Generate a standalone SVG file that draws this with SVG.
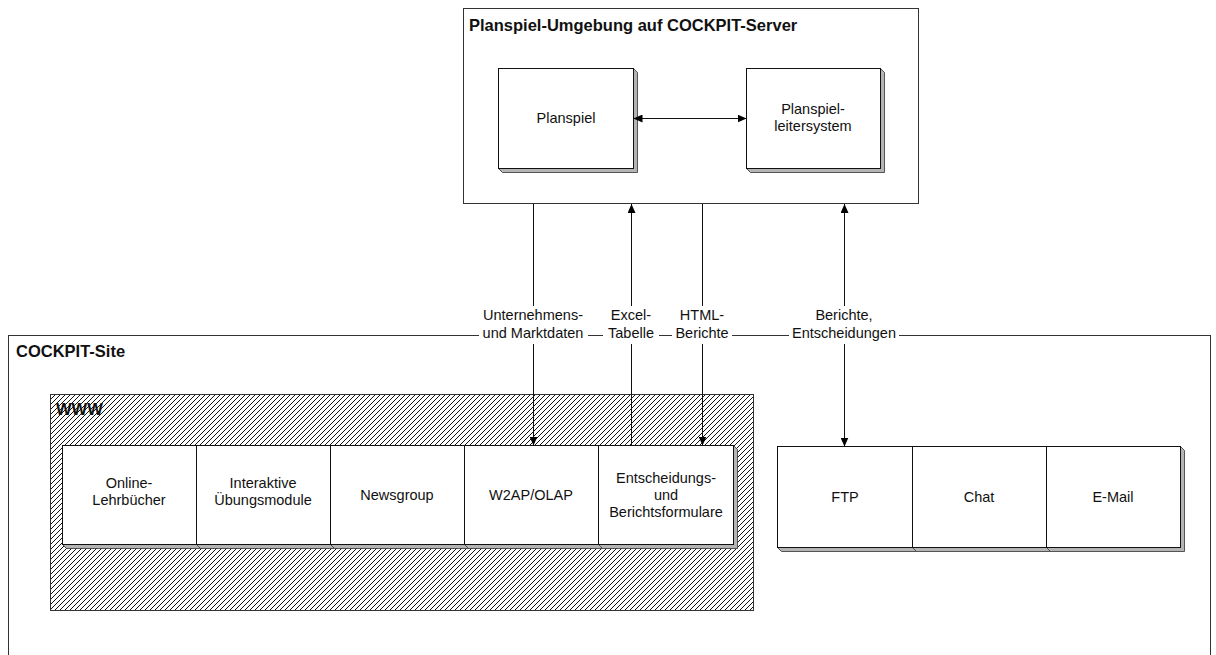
<svg xmlns="http://www.w3.org/2000/svg" width="1216" height="655" viewBox="0 0 1216 655">
<style>
.frame{fill:#fff;stroke:#333;stroke-width:1}
.box{fill:#fff;stroke:#111;stroke-width:1}
.sh{fill:#b4b4b4;stroke:#333;stroke-width:0.8}
.t{font-family:"Liberation Sans",Arial,sans-serif;font-size:14.5px;fill:#111;text-anchor:middle}
.h{font-family:"Liberation Sans",Arial,sans-serif;font-size:16.5px;font-weight:bold;fill:#111}
.c{stroke:#111;stroke-width:1;fill:none}
.lb{fill:#fff;stroke:none}
</style>
<defs>
<pattern id="hatch" x="0" y="0" width="5" height="5" patternUnits="userSpaceOnUse">
<g fill="#111" shape-rendering="crispEdges">
<rect x="4" y="0" width="1" height="1"/>
<rect x="3" y="1" width="1" height="1"/>
<rect x="2" y="2" width="1" height="1"/>
<rect x="1" y="3" width="1" height="1"/>
<rect x="0" y="4" width="1" height="1"/>
</g>
</pattern>
<marker id="arr" viewBox="0 0 10 10" markerWidth="9" markerHeight="8" refX="10" refY="5" orient="auto-start-reverse" markerUnits="userSpaceOnUse" preserveAspectRatio="none">
<path d="M0,0 L10,5 L0,10 z" fill="#000"/>
</marker>
</defs>

<g id="cockpit-site">
<rect class="frame" x="8.5" y="335.5" width="1202" height="330"/>
<text class="h" x="16" y="357">COCKPIT-Site</text>
</g>

<g id="www">
<rect x="50.5" y="394.5" width="703" height="216" fill="url(#hatch)" stroke="#333" stroke-width="1"/>
<text class="h" x="56" y="415">WWW</text>
</g>

<g id="server">
<rect class="frame" x="463.5" y="8.5" width="455" height="195"/>
<text class="h" x="469" y="31">Planspiel-Umgebung auf COCKPIT-Server</text>
</g>

<g id="planspiel">
<polygon class="sh" points="498.5,168.5 502.5,172.5 637.5,172.5 637.5,72.5 633.5,68.5"/>
<rect class="box" x="498.5" y="68.5" width="135" height="100"/>
<text class="t" x="566" y="123">Planspiel</text>
</g>

<g id="leitersystem">
<polygon class="sh" points="746.5,168.5 750.5,172.5 884.5,172.5 884.5,72.5 880.5,68.5"/>
<rect class="box" x="746.5" y="68.5" width="134" height="100"/>
<text class="t" x="813" y="114">Planspiel-</text>
<text class="t" x="813" y="131">leitersystem</text>
</g>

<g id="online-lehrbuecher">
<polygon class="sh" points="62.5,544.5 66.5,548.5 200.5,548.5 200.5,449.5 196.5,445.5"/>
<rect class="box" x="62.5" y="445.5" width="134" height="99"/>
<text class="t" x="129" y="488">Online-</text>
<text class="t" x="129" y="505">Lehrbücher</text>
</g>

<g id="uebungsmodule">
<polygon class="sh" points="196.5,544.5 200.5,548.5 334.5,548.5 334.5,449.5 330.5,445.5"/>
<rect class="box" x="196.5" y="445.5" width="134" height="99"/>
<text class="t" x="263" y="488">Interaktive</text>
<text class="t" x="263" y="505">Übungsmodule</text>
</g>

<g id="newsgroup">
<polygon class="sh" points="330.5,544.5 334.5,548.5 468.5,548.5 468.5,449.5 464.5,445.5"/>
<rect class="box" x="330.5" y="445.5" width="134" height="99"/>
<text class="t" x="397" y="500">Newsgroup</text>
</g>

<g id="w2ap-olap">
<polygon class="sh" points="464.5,544.5 468.5,548.5 602.5,548.5 602.5,449.5 598.5,445.5"/>
<rect class="box" x="464.5" y="445.5" width="134" height="99"/>
<text class="t" x="531" y="500">W2AP/OLAP</text>
</g>

<g id="formulare">
<polygon class="sh" points="598.5,544.5 602.5,548.5 737.5,548.5 737.5,449.5 733.5,445.5"/>
<rect class="box" x="598.5" y="445.5" width="135" height="99"/>
<text class="t" x="666" y="483">Entscheidungs-</text>
<text class="t" x="666" y="500">und</text>
<text class="t" x="666" y="517">Berichtsformulare</text>
</g>

<g id="ftp">
<polygon class="sh" points="777.5,547.5 781.5,551.5 916.5,551.5 916.5,450.5 912.5,446.5"/>
<rect class="box" x="777.5" y="446.5" width="135" height="101"/>
<text class="t" x="845" y="502">FTP</text>
</g>

<g id="chat">
<polygon class="sh" points="912.5,547.5 916.5,551.5 1050.5,551.5 1050.5,450.5 1046.5,446.5"/>
<rect class="box" x="912.5" y="446.5" width="134" height="101"/>
<text class="t" x="979" y="502">Chat</text>
</g>

<g id="email">
<polygon class="sh" points="1046.5,547.5 1050.5,551.5 1184.5,551.5 1184.5,450.5 1180.5,446.5"/>
<rect class="box" x="1046.5" y="446.5" width="134" height="101"/>
<text class="t" x="1113" y="502">E-Mail</text>
</g>

<g id="connectors">
<line class="c" x1="633.5" y1="118.5" x2="746.5" y2="118.5" marker-start="url(#arr)" marker-end="url(#arr)"/>
<line class="c" x1="533.5" y1="204" x2="533.5" y2="445.5" marker-end="url(#arr)"/>
<line class="c" x1="631.5" y1="445.5" x2="631.5" y2="204" marker-end="url(#arr)"/>
<line class="c" x1="702.5" y1="204" x2="702.5" y2="445.5" marker-end="url(#arr)"/>
<line class="c" x1="844.5" y1="204" x2="844.5" y2="446.5" marker-start="url(#arr)" marker-end="url(#arr)"/>

<rect class="lb" x="479" y="306" width="109" height="38"/>
<text class="t" x="533" y="320">Unternehmens-</text>
<text class="t" x="533" y="338">und Marktdaten</text>

<rect class="lb" x="603" y="306" width="56" height="38"/>
<text class="t" x="631" y="320">Excel-</text>
<text class="t" x="631" y="338">Tabelle</text>

<rect class="lb" x="672" y="306" width="60" height="38"/>
<text class="t" x="702" y="320">HTML-</text>
<text class="t" x="702" y="338">Berichte</text>

<rect class="lb" x="789" y="306" width="110" height="38"/>
<text class="t" x="844" y="320">Berichte,</text>
<text class="t" x="844" y="338">Entscheidungen</text>
</g>
</svg>
